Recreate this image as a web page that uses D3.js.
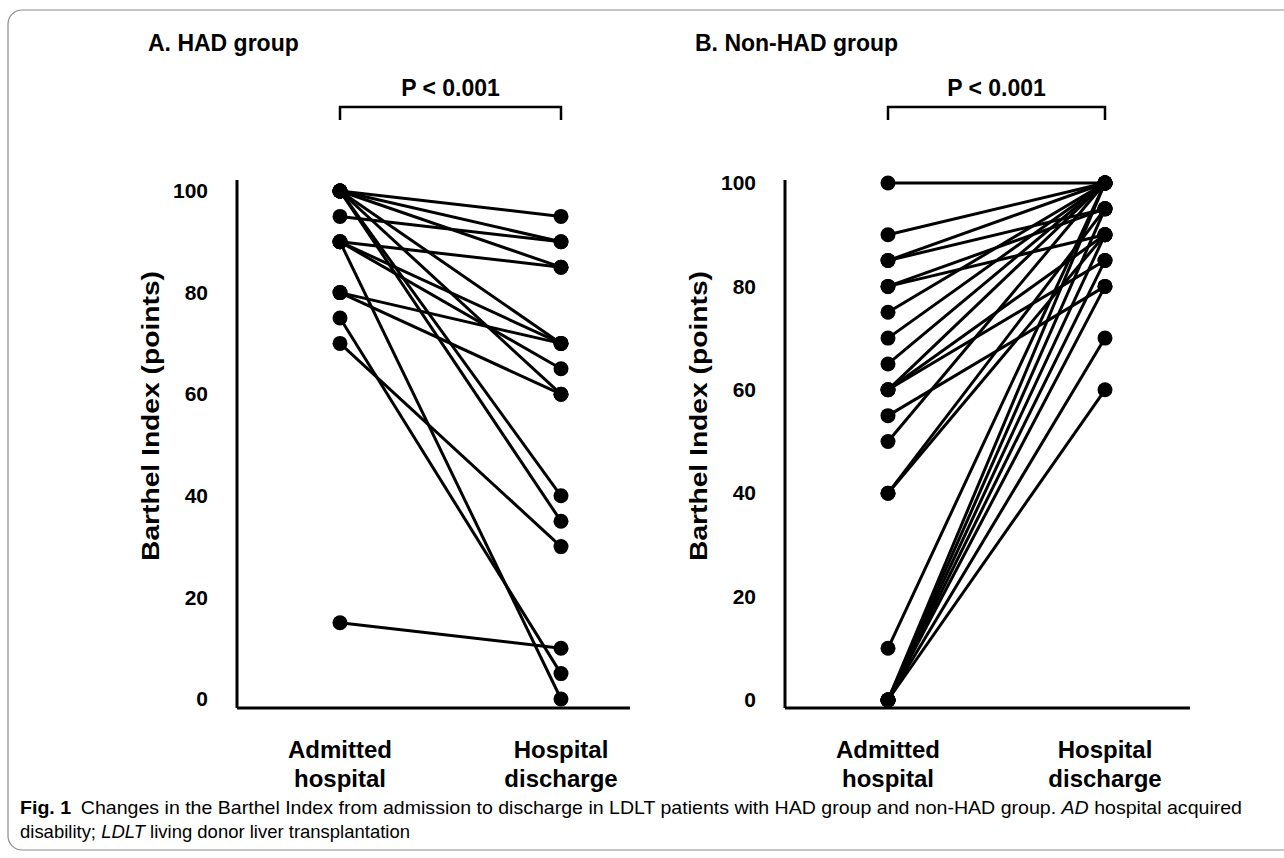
<!DOCTYPE html>
<html>
<head>
<meta charset="utf-8">
<script src="https://cdn.jsdelivr.net/npm/d3@7"></script>
<style>
  body { margin: 0; background: #fff; }
  svg { display: block; }
  text { font-family: "Liberation Sans", Arial, sans-serif; }
</style>
</head>
<body>
<div id="chart"></div>
<script>
// categories and ticks
var stages = ["Admitted hospital", "Hospital discharge"];
var yTicks = [0, 20, 40, 60, 80, 100];

// A. HAD group, one entry per patient
var hadAdmit     = [100, 100, 95, 100, 90, 80, 90, 100, 90, 100, 80, 100, 100, 70, 15, 75, 90];
var hadDischarge = [95,  90,  90, 85,  85, 70, 70, 70,  65, 60,  60, 40,  35,  30, 10, 5,  0];

// B. Non-HAD group, one entry per patient
var nonAdmit     = [100, 90, 85, 85, 80, 80, 75, 70, 65, 60, 60, 60, 55, 50, 40, 40, 10, 0, 0, 0, 0, 0, 0, 0];
var nonDischarge = [100, 100, 100, 95, 95, 90, 100, 100, 100, 100, 90, 85, 80, 100, 95, 90, 100, 100, 95, 90, 85, 80, 70, 60];

var width = 1284, height = 858;

var svg = d3.select("#chart")
  .append("svg")
  .attr("width", width)
  .attr("height", height);

// Frame round the figure
svg.append("rect")
  .attr("x", 8).attr("y", 10)
  .attr("width", 1300).attr("height", 840)
  .attr("rx", 14).attr("ry", 14)
  .attr("fill", "none")
  .attr("stroke", "#8c8c8c")
  .attr("stroke-width", 1.2);

function drawPanel(opt, admit, discharge) {
  var g = svg.append("g");

  var x = d3.scalePoint()
    .domain(stages)
    .range(opt.xRange);

  var y = d3.scaleLinear()
    .domain([0, 100])
    .range(opt.yRange);

  // title
  g.append("text")
    .attr("x", opt.titleX).attr("y", 51)
    .attr("font-size", 23).attr("font-weight", "bold")
    .text(opt.title);

  // significance bracket
  var bx0 = opt.xRange[0], bx1 = opt.xRange[1];
  g.append("path")
    .attr("d", "M" + bx0 + ",120V107H" + bx1 + "V120")
    .attr("fill", "none").attr("stroke", "#000").attr("stroke-width", 2.5);
  g.append("text")
    .attr("x", (bx0 + bx1) / 2).attr("y", 96)
    .attr("text-anchor", "middle")
    .attr("font-size", 23).attr("font-weight", "bold")
    .text("P < 0.001");

  // axes lines
  g.append("line")
    .attr("x1", opt.axisX).attr("x2", opt.axisX)
    .attr("y1", 180).attr("y2", 708)
    .attr("stroke", "#000").attr("stroke-width", 3);
  g.append("line")
    .attr("x1", opt.axisX).attr("x2", opt.axisEnd)
    .attr("y1", 708).attr("y2", 708)
    .attr("stroke", "#000").attr("stroke-width", 3);

  // y tick labels
  var yAxis = g.append("g")
    .attr("transform", "translate(" + (opt.axisX - 29) + ",0)")
    .call(d3.axisLeft(y).tickValues(yTicks).tickSize(0).tickPadding(0));
  yAxis.select(".domain").remove();
  yAxis.selectAll("text")
    .attr("font-size", 21).attr("font-weight", "bold")
    .attr("font-family", "Liberation Sans, Arial, sans-serif")
    .attr("fill", "#000");

  // y title
  g.append("text")
    .attr("transform", "translate(" + (opt.axisX - 78) + ",416) rotate(-90)")
    .attr("text-anchor", "middle")
    .attr("font-size", 24).attr("font-weight", "bold")
    .attr("textLength", 290)
    .attr("lengthAdjust", "spacingAndGlyphs")
    .text("Barthel Index (points)");

  // x category labels on two lines
  stages.forEach(function(s) {
    var words = s.split(" ");
    var t = g.append("text")
      .attr("text-anchor", "middle")
      .attr("font-size", 24).attr("font-weight", "bold");
    words.forEach(function(w, i) {
      t.append("tspan")
        .attr("x", x(s))
        .attr("y", 758 + i * 29)
        .text(w);
    });
  });

  // patient lines
  var pairs = admit.map(function(a, i) { return [a, discharge[i]]; });
  g.selectAll("line.patient")
    .data(pairs)
    .enter()
    .append("line")
    .attr("class", "patient")
    .attr("x1", x(stages[0]))
    .attr("x2", x(stages[1]))
    .attr("y1", function(d) { return y(d[0]); })
    .attr("y2", function(d) { return y(d[1]); })
    .attr("stroke", "#000")
    .attr("stroke-width", 3);

  // dots
  var dots = [];
  pairs.forEach(function(d) {
    dots.push([stages[0], d[0]]);
    dots.push([stages[1], d[1]]);
  });
  g.selectAll("circle")
    .data(dots)
    .enter()
    .append("circle")
    .attr("cx", function(d) { return x(d[0]); })
    .attr("cy", function(d) { return y(d[1]); })
    .attr("r", 7.5)
    .attr("fill", "#000");
}

drawPanel({
  title: "A. HAD  group",
  titleX: 148,
  xRange: [340, 561],
  yRange: [699, 191],
  axisX: 237,
  axisEnd: 630
}, hadAdmit, hadDischarge);

drawPanel({
  title: "B. Non-HAD  group",
  titleX: 695,
  xRange: [888, 1105],
  yRange: [700, 183],
  axisX: 785,
  axisEnd: 1190
}, nonAdmit, nonDischarge);

// caption
var capFont = "'Liberation Sans Narrow', 'Liberation Sans', Arial, sans-serif";
var cap1 = svg.append("text")
  .attr("x", 20).attr("y", 814)
  .attr("font-size", 19)
  .attr("font-family", capFont)
  .attr("textLength", 1222)
  .attr("lengthAdjust", "spacingAndGlyphs");
cap1.append("tspan").attr("font-weight", "bold").text("Fig. 1");
cap1.append("tspan").text("\u2002Changes in the Barthel Index from admission to discharge in LDLT patients with HAD group and non-HAD group. ");
cap1.append("tspan").attr("font-style", "italic").text("AD");
cap1.append("tspan").text(" hospital acquired");

var cap2 = svg.append("text")
  .attr("x", 20).attr("y", 838)
  .attr("font-size", 19)
  .attr("font-family", capFont)
  .attr("textLength", 390)
  .attr("lengthAdjust", "spacingAndGlyphs");
cap2.append("tspan").text("disability; ");
cap2.append("tspan").attr("font-style", "italic").text("LDLT");
cap2.append("tspan").text(" living donor liver transplantation");
</script>
</body>
</html>
